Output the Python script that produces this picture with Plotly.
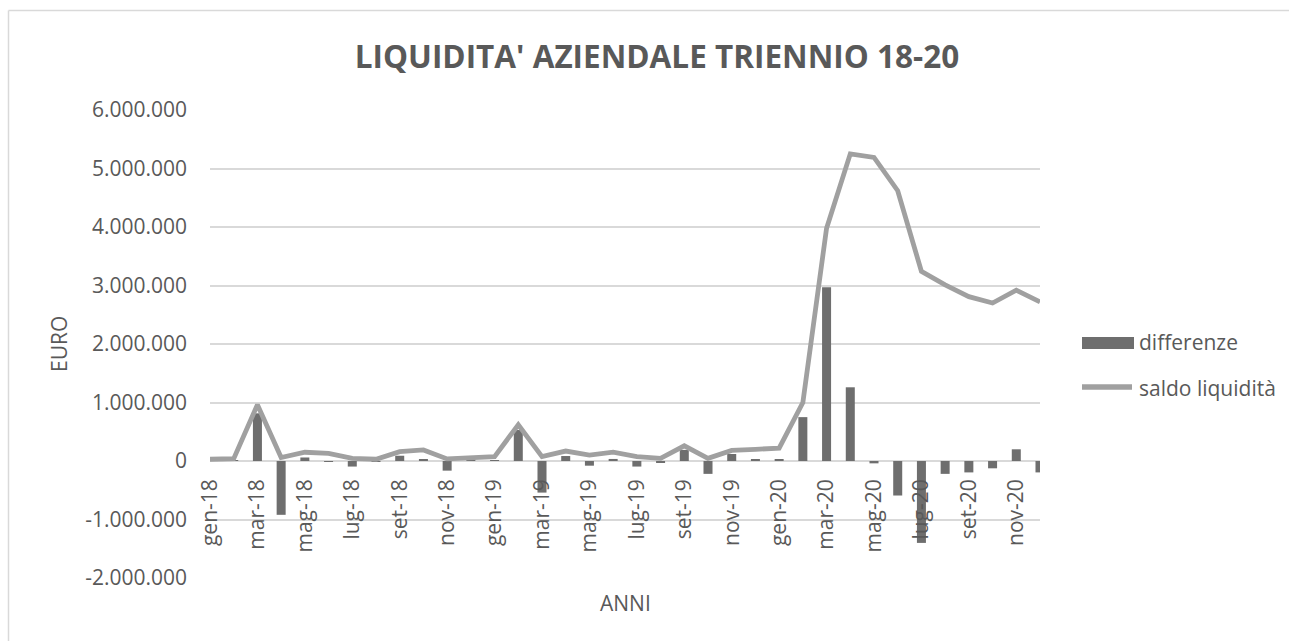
import plotly.graph_objects as go

months = ["gen", "feb", "mar", "apr", "mag", "giu", "lug", "ago", "set", "ott", "nov", "dic"]
years = ["18", "19", "20"]
categories = [f"{m}-{y}" for y in years for m in months]

differenze = [
    0, 10000, 815000, -920000, 60000, -15000, -95000, -10000, 90000, 30000, -165000, 20000,
    15000, 530000, -540000, 85000, -80000, 35000, -95000, -20000, 190000, -220000, 120000, 20000,
    20000, 750000, 2970000, 1260000, -40000, -590000, -1400000, -220000, -195000, -125000, 200000, -195000,
]

saldo = [
    30000, 40000, 960000, 60000, 150000, 130000, 45000, 30000, 160000, 190000, 35000, 60000,
    75000, 620000, 75000, 170000, 100000, 150000, 75000, 45000, 260000, 45000, 180000, 200000,
    220000, 1000000, 3980000, 5250000, 5190000, 4620000, 3240000, 3010000, 2810000, 2700000, 2920000, 2720000,
]

series_names = ["differenze", "saldo liquidità"]
x_ticks = categories[::2]
y_tickvals = [-2000000, -1000000, 0, 1000000, 2000000, 3000000, 4000000, 5000000, 6000000]
y_ticktext = ["-2.000.000", "-1.000.000", "0", "1.000.000", "2.000.000", "3.000.000",
              "4.000.000", "5.000.000", "6.000.000"]

TXT = "#595959"
FONT = "Open Sans"
BAR_C = "#6e6e6e"
LINE_C = "#a0a0a0"

fig = go.Figure()
fig.add_trace(go.Bar(
    x=categories, y=differenze, name=series_names[0],
    marker=dict(color=BAR_C, line=dict(width=0)),
    width=0.38, showlegend=False,
))
fig.add_trace(go.Scatter(
    x=categories, y=saldo, name=series_names[1], mode="lines",
    line=dict(color=LINE_C, width=4.8), showlegend=False,
))

W, H = 1289, 641
L, R, T, B = 210, 1040, 110, 578
pw, ph = R - L, B - T

def px(x):
    return (x - L) / pw

def py(y):
    return (B - y) / ph

fig.update_layout(
    width=W, height=H,
    margin=dict(l=L, r=W - R, t=T, b=H - B, pad=0),
    paper_bgcolor="white", plot_bgcolor="white",
    font=dict(family=FONT, color=TXT, size=21),
    title=dict(text="<b>LIQUIDITA' AZIENDALE TRIENNIO 18-20</b>",
               x=657 / W, xanchor="center", y=1 - 57 / H, yanchor="middle",
               font=dict(size=31.5, color=TXT, family=FONT)),
    showlegend=False,
    xaxis=dict(
        type="category", categoryorder="array", categoryarray=categories,
        range=[0, len(categories) - 1],
        anchor="free", position=2000000 / 8000000,
        tickmode="array", tickvals=x_ticks, ticktext=x_ticks,
        tickangle=-90, showgrid=False, showline=False, zeroline=False,
        ticks="", ticklabelstandoff=13,
        tickfont=dict(size=21, color=TXT, family=FONT),
    ),
    yaxis=dict(
        range=[-2000000, 6000000],
        tickmode="array", tickvals=y_tickvals, ticktext=y_ticktext,
        showgrid=True, gridcolor="#d9d9d9", gridwidth=1.5,
        zeroline=False, showline=False, ticks="", ticklabelstandoff=22,
        tickfont=dict(size=21, color=TXT, family=FONT),
    ),
    annotations=[
        dict(text="EURO", xref="paper", yref="paper", x=px(59), y=py(344),
             textangle=-90, showarrow=False, xanchor="center", yanchor="middle",
             font=dict(size=21, color=TXT, family=FONT)),
        dict(text="ANNI", xref="paper", yref="paper", x=px(625), y=py(603),
             showarrow=False, xanchor="center", yanchor="middle",
             font=dict(size=21, color=TXT, family=FONT)),
        dict(text=series_names[0], xref="paper", yref="paper", x=px(1137), y=py(342),
             showarrow=False, xanchor="left", yanchor="middle",
             font=dict(size=21, color=TXT, family=FONT)),
        dict(text=series_names[1], xref="paper", yref="paper", x=px(1137), y=py(388),
             showarrow=False, xanchor="left", yanchor="middle",
             font=dict(size=21, color=TXT, family=FONT)),
    ],
    shapes=[
        dict(type="line", xref="paper", yref="paper", x0=px(8.5), x1=px(1300),
             y0=py(10.5), y1=py(10.5), line=dict(color="#d9d9d9", width=1.5)),
        dict(type="line", xref="paper", yref="paper", x0=px(8.5), x1=px(8.5),
             y0=py(10.5), y1=py(650), line=dict(color="#d9d9d9", width=1.5)),
        dict(type="rect", xref="paper", yref="paper", x0=px(1082), x1=px(1134),
             y0=py(349), y1=py(337), fillcolor=BAR_C, line=dict(width=0)),
        dict(type="line", xref="paper", yref="paper", x0=px(1082), x1=px(1132),
             y0=py(387), y1=py(387), line=dict(color=LINE_C, width=5.5)),
    ],
)

fig.write_html("out.html", config={"displayModeBar": False},
               post_script="document.body.style.margin='0';")
